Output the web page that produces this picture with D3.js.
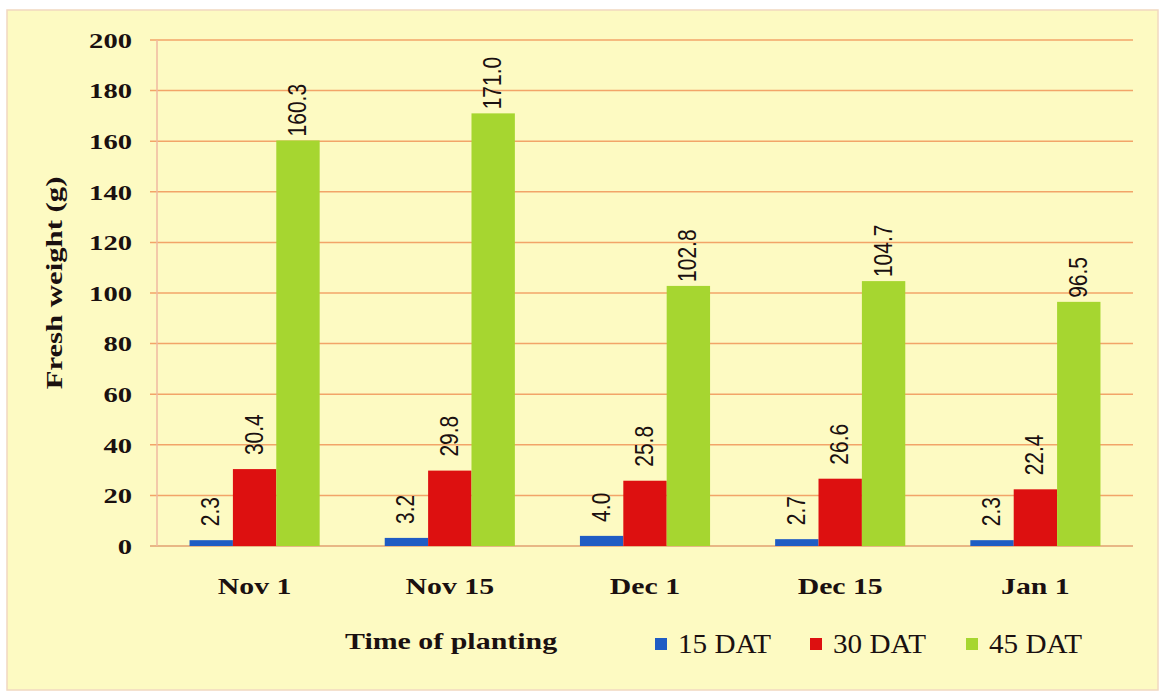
<!DOCTYPE html>
<html>
<head>
<meta charset="utf-8">
<script src="https://cdn.jsdelivr.net/npm/d3@7"></script>
<style>
    body { margin: 0; background: #ffffff; }
    svg { display: block; }
</style>
</head>
<body>
<div id="chart"></div>
<script>
// data
let plantingDates = ["Nov 1", "Nov 15", "Dec 1", "Dec 15", "Jan 1"];
let seriesNames = ["15 DAT", "30 DAT", "45 DAT"];
let dat15 = [2.3, 3.2, 4.0, 2.7, 2.3];
let dat30 = [30.4, 29.8, 25.8, 26.6, 22.4];
let dat45 = [160.3, 171.0, 102.8, 104.7, 96.5];
let yTicks = [0, 20, 40, 60, 80, 100, 120, 140, 160, 180, 200];

let colours = {
    "15 DAT": "#1f5cc4",
    "30 DAT": "#dd1010",
    "45 DAT": "#a6d630"
};

// gap between bar top and its label
let labelGap = {"15 DAT": 14, "30 DAT": 14, "45 DAT": 4};

let seriesValues = {"15 DAT": dat15, "30 DAT": dat30, "45 DAT": dat45};

let width = 1164, height = 693;
let margin = {top: 40, right: 31, bottom: 147, left: 157};
let serif = "'Liberation Serif', 'Times New Roman', serif";

// the scanned original looks stretched sideways, so widen text a bit
function stretch(sel, k) {
    sel.each(function() {
        let len = this.getComputedTextLength();
        d3.select(this)
            .attr("textLength", len * k)
            .attr("lengthAdjust", "spacingAndGlyphs");
    });
}

let svg = d3.select("#chart").append("svg")
    .attr("width", width)
    .attr("height", height);

// panel background
svg.append("rect")
    .attr("x", 7).attr("y", 10)
    .attr("width", 1151).attr("height", 680)
    .attr("fill", "#fdfac2")
    .attr("stroke", "#f1d8c0")
    .attr("stroke-width", 1.5);

let x0 = d3.scaleBand()
    .domain(plantingDates)
    .range([margin.left, width - margin.right]);

// bar group covers the middle 2/3 of each band
let x1 = d3.scaleBand()
    .domain(seriesNames)
    .range([x0.bandwidth() / 6, x0.bandwidth() * 5 / 6]);

let y = d3.scaleLinear()
    .domain([0, 200])
    .range([height - margin.bottom, margin.top]);

// gridlines
svg.append("g")
    .selectAll("line")
    .data(yTicks)
    .enter()
    .append("line")
    .attr("x1", margin.left - 7)
    .attr("x2", width - margin.right)
    .attr("y1", d => y(d))
    .attr("y2", d => y(d))
    .attr("stroke", d => d === 0 ? "#e0a070" : "#f2a468")
    .attr("stroke-width", 1.5);

// y axis line
svg.append("line")
    .attr("x1", margin.left).attr("x2", margin.left)
    .attr("y1", y(200)).attr("y2", y(0))
    .attr("stroke", "#efb8a0")
    .attr("stroke-width", 1.5);

// y tick labels
svg.append("g")
    .selectAll("text")
    .data(yTicks)
    .enter()
    .append("text")
    .attr("x", margin.left - 25)
    .attr("y", d => y(d))
    .attr("dy", "0.35em")
    .attr("text-anchor", "end")
    .style("font-family", serif)
    .style("font-weight", "bold")
    .style("font-size", "22px")
    .style("fill", "#1a1010")
    .text(d => d)
    .call(stretch, 1.3);

// bars
let groups = svg.selectAll(".group")
    .data(plantingDates)
    .enter()
    .append("g")
    .attr("class", "group")
    .attr("transform", d => `translate(${x0(d)}, 0)`);

groups.selectAll("rect")
    .data((d, i) => seriesNames.map(s => ({series: s, value: seriesValues[s][i]})))
    .enter()
    .append("rect")
    .attr("x", d => x1(d.series))
    .attr("y", d => y(d.value))
    .attr("width", x1.bandwidth())
    .attr("height", d => y(0) - y(d.value))
    .attr("fill", d => colours[d.series]);

groups.selectAll("text.value")
    .data((d, i) => seriesNames.map(s => ({series: s, value: seriesValues[s][i]})))
    .enter()
    .append("text")
    .attr("class", "value")
    .attr("transform", d => `translate(${x1(d.series) + x1.bandwidth() / 2 + 8}, ${y(d.value) - labelGap[d.series]}) rotate(-90) scale(1, 1.2)`)
    .attr("text-anchor", "start")
    .style("font-family", "'Liberation Sans', Arial, sans-serif")
    .style("font-size", "21px")
    .style("fill", "#1a1010")
    .text(d => d.value.toFixed(1));

// x labels
svg.append("g")
    .selectAll("text")
    .data(plantingDates)
    .enter()
    .append("text")
    .attr("x", d => x0(d) + x0.bandwidth() / 2)
    .attr("y", y(0) + 48)
    .attr("text-anchor", "middle")
    .style("font-family", serif)
    .style("font-weight", "bold")
    .style("font-size", "24px")
    .style("fill", "#1a1010")
    .text(d => d)
    .call(stretch, 1.24);

// y axis title
svg.append("text")
    .attr("transform", `translate(62, 283) rotate(-90)`)
    .attr("text-anchor", "middle")
    .style("font-family", serif)
    .style("font-weight", "bold")
    .style("font-size", "24px")
    .style("fill", "#1a1010")
    .text("Fresh weight (g)")
    .call(stretch, 1.28);

// x axis title
svg.append("text")
    .attr("x", 345)
    .attr("y", 649)
    .style("font-family", serif)
    .style("font-weight", "bold")
    .style("font-size", "23px")
    .style("fill", "#1a1010")
    .text("Time of planting")
    .call(stretch, 1.3);

// legend
let legendX = [655, 810, 966];
let legend = svg.append("g").attr("class", "legend");
seriesNames.forEach((s, i) => {
    legend.append("rect")
        .attr("x", legendX[i])
        .attr("y", 638)
        .attr("width", 12)
        .attr("height", 12)
        .attr("fill", colours[s]);
    legend.append("text")
        .attr("x", legendX[i] + 23)
        .attr("y", 653)
        .style("font-family", serif)
        .style("font-size", "27px")
        .style("fill", "#1a1010")
        .text(s)
        .call(stretch, 1.08);
});
</script>
</body>
</html>
